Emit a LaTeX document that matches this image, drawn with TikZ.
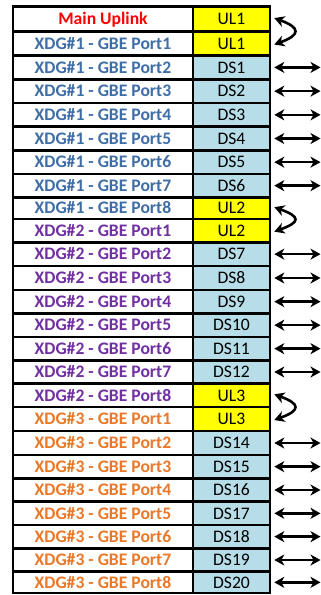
\documentclass[tikz,border=0pt]{standalone}
\usepackage{fontspec}
\setmainfont{Carlito}
\usetikzlibrary{arrows.meta}
\definecolor{cred}{HTML}{FF0000}
\definecolor{cblue}{HTML}{3F6DA5}
\definecolor{cpurple}{HTML}{7030A0}
\definecolor{corange}{HTML}{E8782A}
\definecolor{cyellow}{HTML}{FFFF00}
\definecolor{clight}{HTML}{B7DDE8}
\tikzset{
  cellbox/.style={draw=black, line width=2.6pt, rectangle, inner sep=0pt,
    text height=0.64em+5pt, text depth=0pt, font=\fontsize{17.6}{20}\selectfont},
  labcell/.style={cellbox, minimum width=180pt, font=\fontsize{17.6}{20}\selectfont\bfseries},
  valcell/.style={cellbox, minimum width=77pt},
  dbl/.style={{Stealth[length=10pt,width=11pt,inset=3pt]}-{Stealth[length=10pt,width=11pt,inset=3pt]}, line width=2.6pt},
}
\begin{document}
\begin{tikzpicture}[x=1pt,y=1pt]
\useasboundingbox (0,0) rectangle (321,-595);
\foreach \i/\lab/\col/\val/\fil/\top/\bot in {
 1/Main Uplink/cred/UL1/cyellow/6.7/31.5,
 2/XDG\#1 - GBE Port1/cblue/UL1/cyellow/31.5/55.5,
 3/XDG\#1 - GBE Port2/cblue/DS1/clight/55.5/79.3,
 4/XDG\#1 - GBE Port3/cblue/DS2/clight/79.3/103,
 5/XDG\#1 - GBE Port4/cblue/DS3/clight/103/126.7,
 6/XDG\#1 - GBE Port5/cblue/DS4/clight/126.7/150.3,
 7/XDG\#1 - GBE Port6/cblue/DS5/clight/150.3/174,
 8/XDG\#1 - GBE Port7/cblue/DS6/clight/174/197.3,
 9/XDG\#1 - GBE Port8/cblue/UL2/cyellow/197.3/219,
 10/XDG\#2 - GBE Port1/cpurple/UL2/cyellow/219/242.3,
 11/XDG\#2 - GBE Port2/cpurple/DS7/clight/242.3/266,
 12/XDG\#2 - GBE Port3/cpurple/DS8/clight/266/290,
 13/XDG\#2 - GBE Port4/cpurple/DS9/clight/290/313.3,
 14/XDG\#2 - GBE Port5/cpurple/DS10/clight/313.3/337,
 15/XDG\#2 - GBE Port6/cpurple/DS11/clight/337/360.3,
 16/XDG\#2 - GBE Port7/cpurple/DS12/clight/360.3/383.7,
 17/XDG\#2 - GBE Port8/cpurple/UL3/cyellow/383.7/407,
 18/XDG\#3 - GBE Port1/corange/UL3/cyellow/407/431,
 19/XDG\#3 - GBE Port2/corange/DS14/clight/431/455,
 20/XDG\#3 - GBE Port3/corange/DS15/clight/455/478.3,
 21/XDG\#3 - GBE Port4/corange/DS16/clight/478.3/501.7,
 22/XDG\#3 - GBE Port5/corange/DS17/clight/501.7/525,
 23/XDG\#3 - GBE Port6/corange/DS18/clight/525/548.3,
 24/XDG\#3 - GBE Port7/corange/DS19/clight/548.3/571.7,
 25/XDG\#3 - GBE Port8/corange/DS20/clight/571.7/593}{
  \pgfmathsetmacro{\h}{\bot-\top}
  \pgfmathsetmacro{\cy}{-(\top+\bot)/2}
  \node[labcell, text=\col, minimum height=\h pt] (L\i) at (103,\cy) {\lab};
  \node[valcell, fill=\fil, minimum height=\h pt] (V\i) at (231.5,\cy) {\val};
  \coordinate (E\i) at (320.5,\cy);
}
\foreach \i in {3,4,5,6,7,8,11,12,13,14,15,16,19,20,21,22,23,24,25}{
  \draw[dbl] ([xshift=3pt]V\i.east) -- (E\i);
}
\draw[dbl] ([xshift=3pt,yshift=1pt]V1.east) to[out=-20,in=20,distance=28pt] ([xshift=3pt,yshift=-1pt]V2.east);
\draw[dbl] ([xshift=3pt,yshift=1pt]V9.east) to[out=-20,in=20,distance=28pt] ([xshift=3pt,yshift=-1pt]V10.east);
\draw[dbl] ([xshift=3pt,yshift=1pt]V17.east) to[out=-20,in=20,distance=28pt] ([xshift=3pt,yshift=-1pt]V18.east);
\end{tikzpicture}
\end{document}
